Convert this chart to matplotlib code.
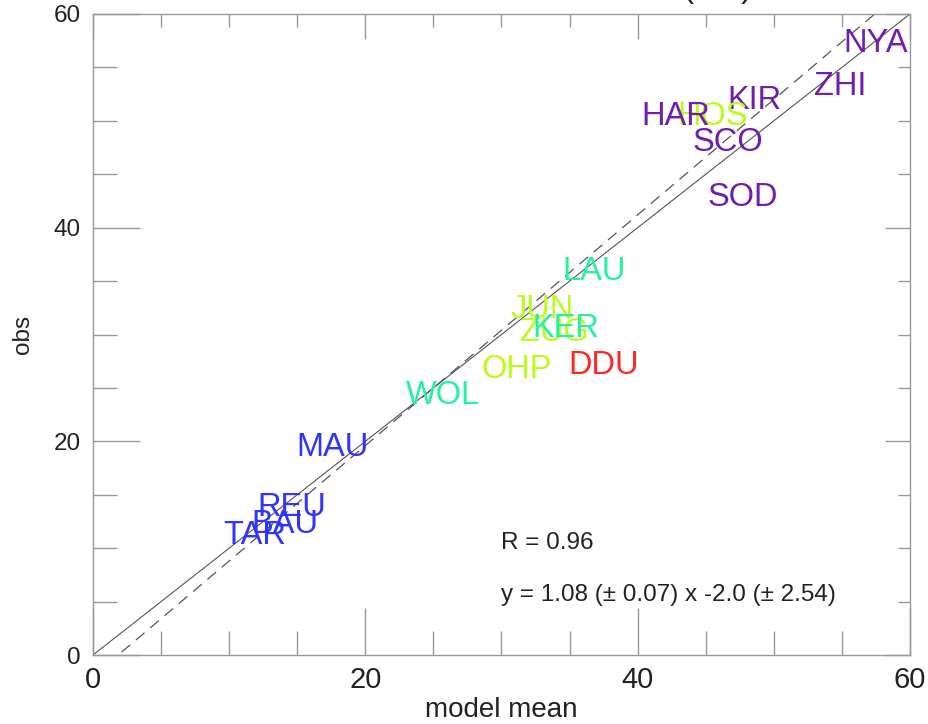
import numpy as np
import matplotlib
matplotlib.use("Agg")
import matplotlib.pyplot as plt
from matplotlib.ticker import MultipleLocator

plt.rcParams['font.family'] = ['Liberation Sans', 'DejaVu Sans']
NARROW = ["DejaVu Sans Condensed", "Liberation Sans"]

# station codes, model mean vs observed value, colour group
stations = ["NYA", "ZHI", "KIR", "HOS", "HAR", "SCO", "SOD",
            "LAU", "JUN", "ZUG", "KER", "OHP", "DDU", "WOL",
            "MAU", "REU", "BAU", "TAR"]
model_mean = [57.5, 54.9, 48.6, 45.5, 42.8, 46.6, 47.7,
              36.8, 33.0, 33.9, 34.7, 31.1, 37.5, 25.7,
              17.6, 14.6, 14.1, 11.9]
obs = [57.2, 53.2, 51.9, 50.4, 50.4, 48.0, 42.8,
       35.9, 32.3, 30.2, 30.6, 26.7, 27.1, 24.3,
       19.4, 13.8, 12.2, 11.2]
groups = ["arctic", "arctic", "arctic", "north_mid", "arctic", "arctic",
          "arctic", "south_mid", "north_mid", "north_mid", "south_mid",
          "north_mid", "antarctic", "south_mid",
          "tropics", "tropics", "tropics", "tropics"]
group_colors = {"arctic": "#6f1fb0", "north_mid": "#bdfa1e",
                "south_mid": "#25f2a0", "tropics": "#3333ff",
                "antarctic": "#ff2626"}

r_value = 0.96
slope, slope_err = 1.08, 0.07
intercept, intercept_err = -2.0, 2.54

fig = plt.figure(figsize=(9.29, 7.24), dpi=100)
ax = fig.add_axes([93 / 929, 69 / 724, 817 / 929, 641 / 724])
ax.set_xlim(0, 60)
ax.set_ylim(0, 60)

# 1:1 line and regression line
xx = np.array([0, 60])
ax.plot(xx, xx, color="#555555", lw=0.8)
ax.plot(xx, slope * xx + intercept, color="#555555", lw=0.9, dashes=(9, 6))

for name, xm, yo, g in zip(stations, model_mean, obs, groups):
    ax.text(xm, yo, name, color=group_colors[g], fontsize=23.5,
            ha="center", va="center")

ax.text(30.0, 10.5, "R = %.2f" % r_value, fontsize=17.5, color="#222222",
        va="center")
ax.text(30.0, 5.6, "y = %.2f (\u00b1 %.2f) x %.1f (\u00b1 %.2f)"
        % (slope, slope_err, intercept, intercept_err),
        fontsize=17.5, color="#222222", va="center")

for s in ax.spines.values():
    s.set_color("#999999")
    s.set_linewidth(1.0)

ax.xaxis.set_major_locator(MultipleLocator(20))
ax.xaxis.set_minor_locator(MultipleLocator(5))
ax.yaxis.set_major_locator(MultipleLocator(20))
ax.yaxis.set_minor_locator(MultipleLocator(5))
ax.tick_params(which="both", direction="in", color="#999999", width=1.0,
               top=False, right=False)
ax.tick_params(which="major", length=34)
ax.tick_params(which="minor", length=17)
ax.tick_params(axis="x", labelsize=21, pad=8, labelcolor="#222222")
ax.tick_params(axis="y", labelsize=17.5, pad=9, labelcolor="#222222")
for lab in ax.get_xticklabels():
    lab.set_family(NARROW)

# shorter ticks along the top and right edges
top = ax.secondary_xaxis("top")
right = ax.secondary_yaxis("right")
for sec, loc in ((top, top.xaxis), (right, right.yaxis)):
    loc.set_major_locator(MultipleLocator(20))
    loc.set_minor_locator(MultipleLocator(5))
    sec.tick_params(which="both", direction="in", color="#999999", width=1.0,
                    labelsize=0)
    sec.tick_params(which="major", length=18)
    sec.tick_params(which="minor", length=9)
    for s in sec.spines.values():
        s.set_visible(False)
top.set_xticklabels([])
right.set_yticklabels([])

ax.set_xlabel("model mean", fontsize=20, color="#222222", labelpad=2,
              family=NARROW)
ax.set_ylabel("obs", fontsize=17.5, color="#222222", labelpad=14)

fig.text(752 / 929, 1.0 + 3 / 724, "column (DU)", fontsize=23.5,
         color="#222222", ha="right", va="baseline")

fig.savefig("out.png", dpi=100)
